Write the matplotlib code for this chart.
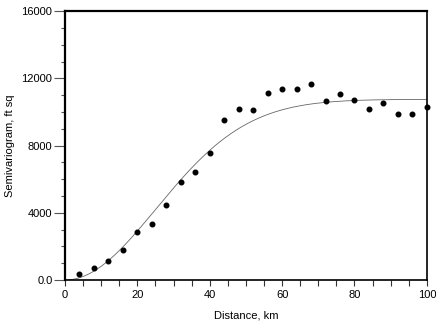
"""Experimental semivariogram with fitted Gaussian model."""
import numpy as np
import matplotlib
matplotlib.use("Agg")
import matplotlib.pyplot as plt
from matplotlib.ticker import FixedLocator, MultipleLocator

plt.rcParams.update({
    "font.family": ["Liberation Sans", "DejaVu Sans"],
    "font.size": 8,
})

# experimental semivariogram (lag distance km, gamma ft^2)
lag_km = [4, 8, 12, 16, 20, 24, 28, 32, 36, 40, 44, 48, 52,
          56, 60, 64, 68, 72, 76, 80, 84, 88, 92, 96, 100]
gamma = [330, 720, 1130, 1790, 2860, 3330, 4460, 5820, 6420, 7540,
         9520, 10170, 10110, 11120, 11340, 11360, 11660, 10630,
         11060, 10700, 10170, 10530, 9860, 9860, 10290]

# fitted gaussian model
nugget = 0.0
sill = 10750.0
range_km = 61.6

ytick_vals = [0, 4000, 8000, 12000, 16000]
ytick_labels = ["0.0", "4000", "8000", "12000", "16000"]

h = np.linspace(0, 100, 400)
model = nugget + (sill - nugget) * (1 - np.exp(-3 * h**2 / range_km**2))

fig = plt.figure(figsize=(4.36, 3.26), dpi=100)
ax = fig.add_axes([0.149, 0.141, 0.830, 0.825])

ax.plot(h, model, color="#666666", lw=0.6)
ax.plot(lag_km, gamma, "o", color="black", ms=3.3, clip_on=False, zorder=3)

ax.set_xlim(0, 100)
ax.set_ylim(0, 16000)
ax.xaxis.set_major_locator(MultipleLocator(20))
ax.xaxis.set_minor_locator(MultipleLocator(5))
ax.yaxis.set_major_locator(FixedLocator(ytick_vals))
ax.set_yticklabels(ytick_labels)
ax.yaxis.set_minor_locator(MultipleLocator(1000))

ax.tick_params(axis="x", which="both", direction="out", length=4,
               width=0.8, color="#333333", pad=3)
ax.tick_params(axis="y", which="major", direction="out", length=8,
               width=0.8, color="#555555", pad=1)
ax.tick_params(axis="y", which="minor", direction="out", length=3,
               width=0.8, color="#555555")

for side, lw in [("left", 1.6), ("top", 1.6), ("right", 1.2), ("bottom", 1.2)]:
    ax.spines[side].set_linewidth(lw)
    ax.spines[side].set_color("black")

ax.set_xlabel("Distance, km", labelpad=8)
ax.set_ylabel("Semivariogram, ft sq", labelpad=5)

fig.savefig("out.png", dpi=100)
